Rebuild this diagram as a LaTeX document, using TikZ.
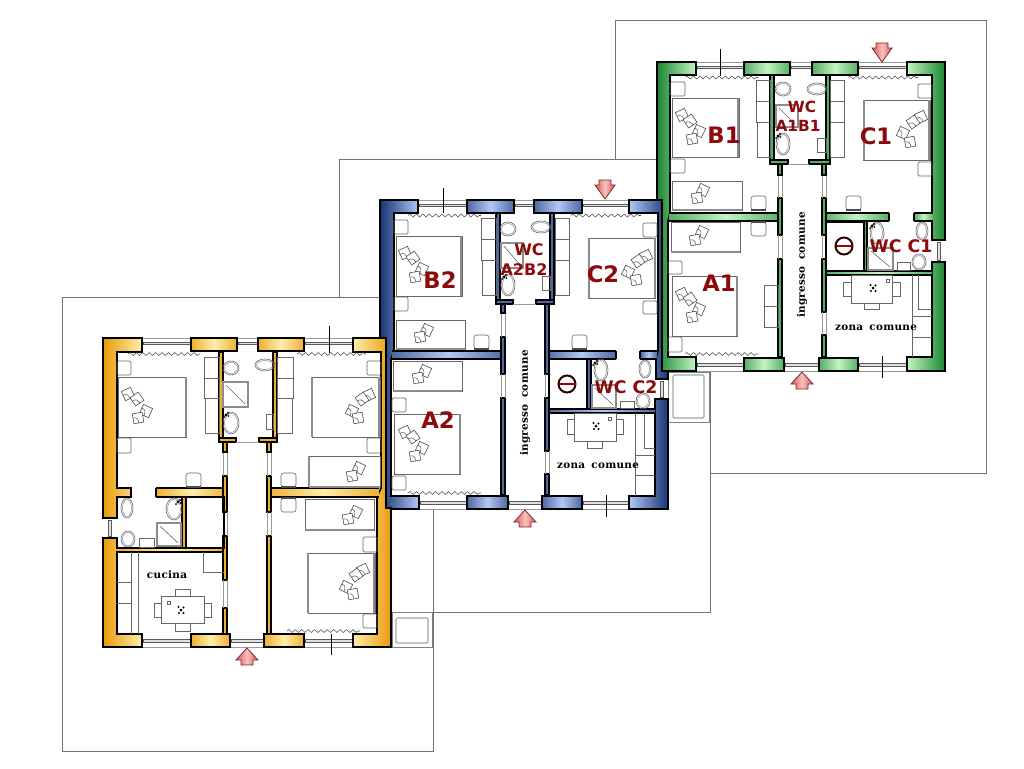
\documentclass[tikz,border=0pt]{standalone}
\usepackage{fontspec}
\setmainfont{DejaVu Sans}
\newfontfamily\srf[LetterSpace=3,WordSpace=1.6]{DejaVu Serif}
\usetikzlibrary{decorations.pathmorphing}
\definecolor{redlab}{RGB}{140,10,12}
\definecolor{gdk}{RGB}{28,135,50}\definecolor{glt}{RGB}{195,245,195}
\definecolor{bdk}{RGB}{24,52,115}\definecolor{blt}{RGB}{178,200,245}
\definecolor{ydk}{RGB}{232,155,10}\definecolor{ylt}{RGB}{255,238,170}
\definecolor{arrd}{RGB}{212,90,92}\definecolor{arrl}{RGB}{250,192,186}\definecolor{arre}{RGB}{125,40,45}
\tikzset{
 plot/.style={draw=black!55,line width=0.5pt,fill=white},
 wl/.style={draw=black,line width=1.25pt,line join=miter},
 shL/.style={left color=dk,right color=lt},
 shR/.style={left color=lt,right color=dk},
 shM/.style={left color=md,right color=md,middle color=lt},
 fu/.style={draw=black!60,line width=0.45pt},
 fud/.style={draw=black!45,line width=1.1pt},
 gl/.style={draw=black!40,line width=0.5pt},
 band/.style={draw=black!65,fill=black!12,line width=0.5pt},
 wav/.style={draw=black!70,line width=0.4pt,decorate,decoration={snake,segment length=4.8pt,amplitude=1.1pt}},
 tick/.style={draw=black,line width=0.7pt},
 arr/.style={draw=arre,line width=0.6pt,left color=arrd,right color=arrd,middle color=arrl},
 lab/.style={text=redlab,font=\bfseries\fontsize{17}{18}\selectfont,inner sep=0pt},
 labs/.style={text=redlab,font=\bfseries\fontsize{12}{14}\selectfont,inner sep=0pt},
 lam/.style={text=redlab,font=\bfseries\fontsize{13}{15}\selectfont,inner sep=0pt},
 srl/.style={text=black,font=\srf\bfseries\fontsize{7.8}{10}\selectfont,inner sep=0pt},
}
% walls
\newcommand\xpc[2]{\path[wl,shM] (#1,0) rectangle (#2,13);}
\newcommand\xpb[2]{\path[wl,shM] (#1,296) rectangle (#2,309);}
\newcommand\xhw[4]{\shade[shM] (#1,#3) rectangle (#2,#4);\draw[wl] (#1,#3) -- (#2,#3) (#1,#4) -- (#2,#4);}
\newcommand\xtw[3]{\path[wl,fill=md] (#1,#2) rectangle ({#1+4},#3);}
\newcommand\xgp[3]{\draw[gl] (#1,#2) -- (#1,#3) ({#1+4},#2) -- ({#1+4},#3);}
\newcommand\xwt[2]{\fill[white] (#1,0) rectangle (#2,13);\draw[gl] (#1,0) -- (#2,0);\draw[band] ({#1+1},4) rectangle ({#2-1},6.5);}
\newcommand\xwb[2]{\fill[white] (#1,296) rectangle (#2,309);\draw[gl] (#1,309) -- (#2,309);\draw[band] ({#1+1},301.5) rectangle ({#2-1},304);}
\newcommand\xwv[4]{\fill[white] (#1,#3) rectangle (#2,#4);\draw[gl] (#1,#3) -- (#2,#3) (#1,#4) -- (#2,#4);\draw[band] ({(#1+#2)/2-1.5},{#3+2}) rectangle ({(#1+#2)/2+1.5},{#4-2});}
% furniture
\newcommand\xrc[4]{\draw[fu] (#1,#2) rectangle (#3,#4);}
\newcommand\xns[4]{\draw[fu,rounded corners=1pt] (#1,#2) rectangle (#3,#4);}
\newcommand\xhl[3]{\draw[fud] (#1,#2) -- (#1,#3);}
\newcommand\xpil[3]{\begin{scope}[shift={(#1,#2)},rotate=#3]\draw[fu,fill=white,draw=black!70] (-5,-5) rectangle (5,5);\draw[fu,draw=black!60] (-5,-1) .. controls (-1,-1) and (0,1) .. (0,5);\end{scope}}
\newcommand\xfour[8]{\xpil{#1}{#2}{25}\xpil{#3}{#4}{35}\xpil{#5}{#6}{-25}\xpil{#7}{#8}{10}}
\newcommand\xtwo[4]{\xpil{#1}{#2}{-25}\xpil{#3}{#4}{10}}
\newcommand\xchr[3]{\draw[fu,rounded corners=2pt] (#1,#2) rectangle ({#1+15},{#2+14});\draw[draw=black!70,line width=1.1pt] (#1,#3) -- ({#1+15},#3);}
\newcommand\xov[4]{\draw[fu] (#1,#2) ellipse [x radius=#3,y radius=#4];\draw[fu,draw=black!40] (#1,#2) ellipse [x radius={#3-1.5},y radius={#4-1.5}];}
\newcommand\xfct[2]{\fill[black] (#1,#2) circle (1.6);\fill[black] ({#1+2},{#2-2}) circle (1.2);\fill[black] ({#1-2},{#2+2}) circle (1);\fill[black] ({#1+2.5},{#2+1}) circle (0.9);}
\newcommand\xflw[2]{\fill[black] (#1,#2) circle (1.5);\fill[black] ({#1-2.5},{#2-3}) circle (1.1);\fill[black] ({#1+2.5},{#2-2.5}) circle (1.1);\fill[black] ({#1-2},{#2+3}) circle (1.1);\fill[black] ({#1+2.5},{#2+3}) circle (1.1);}
\newcommand\xshw[4]{\draw[draw=black!45,line width=1pt] (#1,#2) rectangle (#3,#4);\draw[fu] ({#1+3},{#2+3}) -- ({#3-3},{#4-3});}
\newcommand\xsym[2]{\draw[draw=black!40!red!30!black,line width=1.5pt] (#1,#2) circle (8.5);\draw[draw=red!60!black,line width=1.4pt] ({#1-8.5},#2) -- ({#1+8.5},#2);}
\newcommand\xdn[2]{\path[arr] ({#1-6},{#2-19}) -- ({#1+6},{#2-19}) -- ({#1+6},{#2-14}) -- ({#1+10},{#2-14}) -- (#1,#2) -- ({#1-10},{#2-14}) -- ({#1-6},{#2-14}) -- cycle;}
\newcommand\xup[2]{\path[arr] (#1,#2) -- ({#1+11},{#2+12}) -- ({#1+6},{#2+12}) -- ({#1+6},{#2+17}) -- ({#1-6},{#2+17}) -- ({#1-6},{#2+12}) -- ({#1-11},{#2+12}) -- cycle;}
\begin{document}
\begin{tikzpicture}[x=0.75pt,y=-0.75pt]
\useasboundingbox (0,0) rectangle (1024,768);
\fill[white] (0,0) rectangle (1024,768);
% plots
\path[plot] (615,20) rectangle (986,473);
\path[plot] (339,159) rectangle (710,612);
\path[plot] (62,297) rectangle (433,751);
% terraces
\draw[fu,draw=black!50,fill=white] (668,372) rectangle (709,422);
\draw[draw=black!35,line width=0.9pt,rounded corners=1pt] (673,375) rectangle (704,418);
\draw[fu,draw=black!50] (392,612) rectangle (432,647);
\draw[draw=black!35,line width=0.9pt,rounded corners=1pt] (396,618) rectangle (428,643);

%%%%%%%%%% GREEN
\begin{scope}[shift={(657,62)}]
\colorlet{dk}{gdk}\colorlet{lt}{glt}\colorlet{md}{gdk!65!glt}
\fill[white] (0,0) rectangle (288,309);
\xwt{39}{87}\xwt{133}{155}\xwt{201}{250}
\xwb{39}{87}\xwb{127}{162}\xwb{201}{250}
\xwv{275}{288}{178}{200}
\xpc{87}{133}\xpc{155}{201}\xpb{87}{127}\xpb{162}{201}
\path[wl,shL] (0,0) -- (39,0) -- (39,13) -- (13,13) -- (13,151) -- (11,159) -- (11,295) -- (39,295) -- (39,309) -- (0,309) -- cycle;
\path[wl,shR] (250,0) -- (288,0) -- (288,178) -- (275,178) -- (275,13) -- (250,13) -- cycle;
\path[wl,shR] (250,309) -- (288,309) -- (288,200) -- (275,200) -- (275,295) -- (250,295) -- cycle;
\xhw{12}{125}{151}{159}\xhw{166}{232}{151}{159}\xhw{257}{276}{151}{159}
\draw[wl] (232,151) -- (232,159) (257,151) -- (257,159);
\xhw{169}{275}{209}{213}
\xtw{121}{136}{173}\xtw{121}{197}{295}\xgp{121}{113}{136}\xgp{121}{173}{197}
\xtw{165}{136}{173}\xtw{165}{197}{250}\xtw{165}{273}{295}\xgp{165}{113}{136}\xgp{165}{173}{197}\xgp{165}{250}{273}
\xtw{113}{13}{100}\xtw{169}{13}{100}
\path[wl,fill=md] (113,98) rectangle (131,102);\path[wl,fill=md] (152,98) rectangle (173,102);
\xtw{121}{102}{113}\xtw{165}{102}{113}
\draw[gl] (131,102) -- (152,102);
\draw[wl] (169,160) rectangle (207,209);
\path[wl,fill=md] (207,159) rectangle (210,209);
\draw[tick] (63,-13) -- (63,14) (225,294) -- (225,316);
\xdn{225}{0}\xup{145}{310}
\draw[wav] (28,15.5) -- (101,15.5);\draw[wav] (191,15.5) -- (261,15.5);\draw[wav] (28,292) -- (101,292);
% B1
\xns{13}{20}{28}{34}\xns{13}{97}{28}{111}\xrc{15}{36}{82}{95}\xhl{81}{36}{95}\xfour{25}{53}{33}{59}{42}{69}{35}{77}
\xrc{15}{119}{85}{148}\draw[fud] (15,148) -- (85,148);\xtwo{46}{128}{40}{136}\xchr{94}{134}{148}
\xrc{99}{18}{113}{39}\xrc{99}{39}{113}{60}\xrc{100}{60}{113}{95}
% WC A1B1
\xov{126}{27}{8}{7}\xov{160}{27}{10}{6}\xshw{119}{43}{141}{65}\xov{126}{82}{7}{11}\xfct{121}{74}\xrc{160}{76}{169}{90}
% C1
\xrc{173}{18}{187}{39}\xrc{173}{39}{187}{60}\xrc{173}{60}{187}{95}
\xrc{206}{38}{273}{98}\xhl{207}{38}{98}\xhl{272}{38}{98}\xfour{264}{55}{256}{60}{246}{71}{253}{80}
\xns{261}{22}{275}{36}\xns{261}{100}{275}{114}\xchr{189}{134}{148}
% A1
\xrc{14}{160}{83}{190}\draw[fud] (14,190) -- (83,190);\xtwo{45}{170}{38}{178}\xchr{94}{160}{160}
\xns{11}{199}{25}{212}\xns{11}{275}{25}{290}\xrc{15}{214}{80}{274}\xhl{80}{214}{274}\xfour{25}{232}{33}{237}{42}{247}{35}{255}
\xrc{107}{223}{121}{244}\xrc{107}{244}{121}{265}
% closet and WC C1
\xsym{187}{184}\xov{220}{171}{7}{11}\xfct{215}{164}\xov{265}{169}{6}{9}\xov{262}{200}{7}{8}\xshw{211}{186}{236}{208}\xrc{240}{200}{253}{208}
% zona comune
\xrc{194}{213}{235}{241}\xrc{186}{220}{194}{234}\xrc{235}{220}{243}{234}\xrc{207}{241}{222}{247}\xflw{216}{226}\xrc{229}{217}{232}{220}
\draw[fu] (255,213) -- (255,295) (261,213) -- (261,247) -- (275,247) (255,254) -- (275,254) (255,275) -- (275,275);
\node[lab] (b1) at (67,73) {B1};
\node[lab] (c1) at (219,74) {C1};
\node[lab] (a1) at (62,221) {A1};
\node[labs,font=\bfseries\fontsize{11.5}{14}\selectfont] (wca) at (145,45) {WC};
\node[labs,font=\bfseries\fontsize{11.5}{14}\selectfont] (wcb) at (141,64) {A1B1};
\node[lam] (wcc) at (244,184) {WC C1};
\node[srl,rotate=90] (ing1) at (145,203) {ingresso comune};
\node[srl] (zc1) at (219,266) {zona comune};
\end{scope}

%%%%%%%%%% BLUE
\begin{scope}[shift={(380,200)}]
\colorlet{dk}{bdk}\colorlet{lt}{blt}\colorlet{md}{bdk!65!blt}
\fill[white] (0,0) rectangle (278,309);
\xwt{38}{87}\xwt{134}{154}\xwt{202}{249}
\xwb{39}{87}\xwb{128}{162}\xwb{202}{249}
\xwv{275}{288}{179}{199}
\xpc{87}{134}\xpc{154}{202}\xpb{87}{128}\xpb{162}{202}
\path[wl,shL] (0,0) -- (38,0) -- (38,13) -- (14,13) -- (14,151) -- (11,159) -- (11,296) -- (39,296) -- (39,309) -- (0,309) -- cycle;
\path[wl,shR] (249,0) -- (282,0) -- (282,171) -- (288,171) -- (288,179) -- (276,179) -- (276,159) -- (278,151) -- (278,13) -- (249,13) -- cycle;
\path[wl,shR] (249,309) -- (288,309) -- (288,199) -- (275,199) -- (275,296) -- (249,296) -- cycle;
\xhw{12}{125}{151}{159}\xhw{166}{236}{151}{159}\xhw{260}{277}{151}{159}
\draw[wl] (236,151) -- (236,159) (260,151) -- (260,159);
\xhw{169}{275}{209}{213}
\xtw{121}{137}{174}\xtw{121}{198}{295}\xgp{121}{113}{137}\xgp{121}{174}{198}
\xtw{165}{104}{174}\xtw{165}{198}{251}\xtw{165}{274}{295}\xgp{165}{174}{198}\xgp{165}{251}{274}
\xtw{116}{13}{102}\xtw{170}{13}{102}
\path[wl,fill=md] (116,100) rectangle (133,104);\path[wl,fill=md] (156,100) rectangle (174,104);
\xtw{121}{104}{113}
\draw[gl] (133,104) -- (156,104);
\draw[wl] (169,159) rectangle (207,209);
\path[wl,fill=md] (207,159) rectangle (211,209);
\draw[tick] (63,-12) -- (63,13) (226,295) -- (226,317);
\xdn{225}{-1}\xup{145}{310}
\draw[wav] (28,15.5) -- (101,15.5);\draw[wav] (191,15.5) -- (261,15.5);\draw[wav] (28,293) -- (101,293);
% B2
\xns{14}{20}{28}{34}\xns{14}{97}{28}{111}\xrc{16}{36}{82}{96}\xhl{81}{36}{96}\xfour{25}{53}{33}{58}{42}{69}{35}{77}
\xrc{16}{120}{85}{149}\draw[fud] (16,149) -- (85,149);\xtwo{47}{130}{40}{137}\xchr{94}{135}{149}
\xrc{101}{18}{116}{39}\xrc{101}{39}{116}{60}\xrc{102}{60}{116}{95}
% WC A2B2
\xov{128}{29}{8}{7}\xov{161}{27}{10}{6}\xshw{121}{43}{143}{68}\xov{128}{85}{7}{11}\xfct{124}{77}\xrc{162}{76}{170}{90}
% C2
\xrc{175}{18}{189}{39}\xrc{175}{39}{189}{60}\xrc{175}{60}{189}{95}
\xrc{208}{38}{275}{98}\xhl{209}{38}{98}\xhl{275}{38}{98}\xfour{266}{56}{258}{61}{248}{72}{256}{80}
\xns{263}{23}{277}{37}\xns{263}{101}{277}{114}\xchr{192}{135}{149}
% A2
\xrc{13}{161}{82}{191}\draw[fud] (13,191) -- (82,191);\xtwo{45}{171}{38}{178}
\xns{12}{198}{26}{212}\xns{12}{276}{26}{290}\xrc{14}{214}{80}{274}\xhl{80}{214}{274}\xfour{25}{232}{33}{237}{42}{248}{35}{256}
% closet, WC C2
\xsym{187}{184}\xov{221}{170}{7}{11}\xfct{215}{163}\xov{265}{169}{6}{9}\xov{263}{201}{7}{8}\xshw{212}{185}{236}{208}\xrc{240}{201}{254}{208}
% zona
\xrc{194}{213}{236}{241}\xrc{187}{219}{194}{234}\xrc{236}{219}{243}{234}\xrc{207}{241}{222}{248}\xflw{216}{226}\xrc{228}{217}{231}{220}
\draw[fu] (255,213) -- (255,296) (264,213) -- (264,248) -- (275,248) (255,255) -- (275,255) (255,275) -- (275,275);
\node[lab] (b2) at (60,80) {B2};
\node[lab] (c2) at (223,74) {C2};
\node[lab] (a2) at (58,220) {A2};
\node[labs] (wcd) at (149,50) {WC};
\node[labs] (wce) at (144,70) {A2B2};
\node[lam] (wcf) at (246,187) {WC C2};
\node[srl,rotate=90] (ing2) at (145,203) {ingresso comune};
\node[srl] (zc2) at (218,266) {zona comune};
\end{scope}

%%%%%%%%%% YELLOW
\begin{scope}[shift={(103,338)}]
\colorlet{dk}{ydk}\colorlet{lt}{ylt}\colorlet{md}{ydk!75!ylt}
\fill[white] (0,0) rectangle (278,309);
\xwt{39}{88}\xwt{134}{155}\xwt{201}{250}
\xwb{39}{88}\xwb{127}{161}\xwb{201}{250}
\xwv{0}{14}{180}{200}
\xpc{88}{134}\xpc{155}{201}\xpb{88}{127}\xpb{161}{201}
\path[wl,shL] (0,0) -- (39,0) -- (39,14) -- (14,14) -- (14,150) -- (28,150) -- (28,159) -- (14,159) -- (14,180) -- (0,180) -- cycle;
\path[wl,shL] (0,200) -- (14,200) -- (14,296) -- (39,296) -- (39,309) -- (0,309) -- cycle;
\path[wl,shR] (250,0) -- (283,0) -- (283,170) -- (288,170) -- (288,309) -- (250,309) -- (250,296) -- (274,296) -- (274,159) -- (278,150) -- (278,14) -- (250,14) -- cycle;
\xhw{53}{125}{150}{159}\xhw{164}{276}{150}{159}
\draw[wl] (53,150) -- (53,159);
\xhw{13}{122}{210}{214}
\xtw{120}{138}{174}\xtw{120}{198}{242}\xtw{120}{270}{296}\xgp{120}{114}{138}\xgp{120}{174}{198}\xgp{120}{242}{270}
\xtw{164}{138}{174}\xtw{164}{198}{296}\xgp{164}{114}{138}\xgp{164}{174}{198}
\xtw{116}{14}{102}\xtw{170}{14}{102}
\path[wl,fill=md] (116,100) rectangle (133,104);\path[wl,fill=md] (156,100) rectangle (174,104);
\xtw{120}{104}{114}\xtw{164}{104}{114}
\draw[gl] (133,104) -- (156,104);
\draw[wl] (83,159) rectangle (121,210);
\path[wl,fill=md] (79,159) rectangle (83,210);
\draw[tick] (226,-12) -- (226,15) (228,296) -- (228,317);
\xup{144}{310}
\draw[wav] (25,16) -- (97,16);\draw[wav] (194,16) -- (263,16);\draw[wav] (184,293) -- (257,293);
% upper left
\xns{14}{23}{28}{37}\xns{14}{100}{28}{115}\xrc{15}{39}{83}{99}\xhl{83}{39}{99}\xfour{25}{56}{34}{61}{43}{73}{35}{80}
\xrc{101}{19}{116}{40}\xrc{101}{40}{116}{60}\xrc{102}{60}{116}{95}\xchr{83}{135}{149}
% WC
\xov{128}{30}{8}{7}\xov{162}{27}{10}{6}\xshw{120}{44}{145}{69}\xov{128}{85}{8}{11}\xfct{123}{77}\xrc{163}{76}{170}{91}
% upper right
\xrc{174}{19}{190}{40}\xrc{174}{40}{190}{60}\xrc{174}{60}{189}{95}
\xrc{209}{39}{277}{99}\xhl{209}{39}{99}\xhl{276}{39}{99}\xfour{266}{57}{259}{61}{249}{73}{255}{80}
\xns{264}{23}{278}{37}\xns{264}{100}{278}{115}\xrc{206}{118}{277}{149}\draw[fud] (206,149) -- (277,149);\xhl{206}{118}{149}\xtwo{256}{130}{249}{138}\xchr{178}{135}{149}
% lower right
\xrc{202}{161}{271}{192}\draw[fud] (202,192) -- (271,192);\xtwo{253}{174}{245}{181}\xchr{178}{160}{160}
\xns{260}{199}{274}{214}\xns{260}{276}{274}{290}\xrc{205}{215}{272}{275}\xhl{205}{215}{275}\xhl{271}{215}{275}\xfour{260}{232}{253}{237}{243}{249}{250}{256}
% bathroom
\xov{24}{170}{6}{10}\xov{71}{171}{8}{11}\xfct{75}{164}\xov{25}{201}{7}{8}\xrc{36}{200}{51}{209}\xshw{54}{185}{78}{208}
% kitchen
\draw[fu] (28,214) -- (28,296) (35,214) -- (35,296) (14,244) -- (28,244) (14,265) -- (28,265) (100,214) -- (100,234) -- (121,234);
\xrc{58}{258}{101}{285}\xrc{51}{265}{58}{279}\xrc{101}{265}{108}{279}\xrc{72}{251}{87}{258}\xrc{72}{285}{87}{293}\xflw{78}{272}\xrc{64}{263}{67}{266}
\node[srl] (cuc) at (64,237) {cucina};
\end{scope}
\end{tikzpicture}
\end{document}
